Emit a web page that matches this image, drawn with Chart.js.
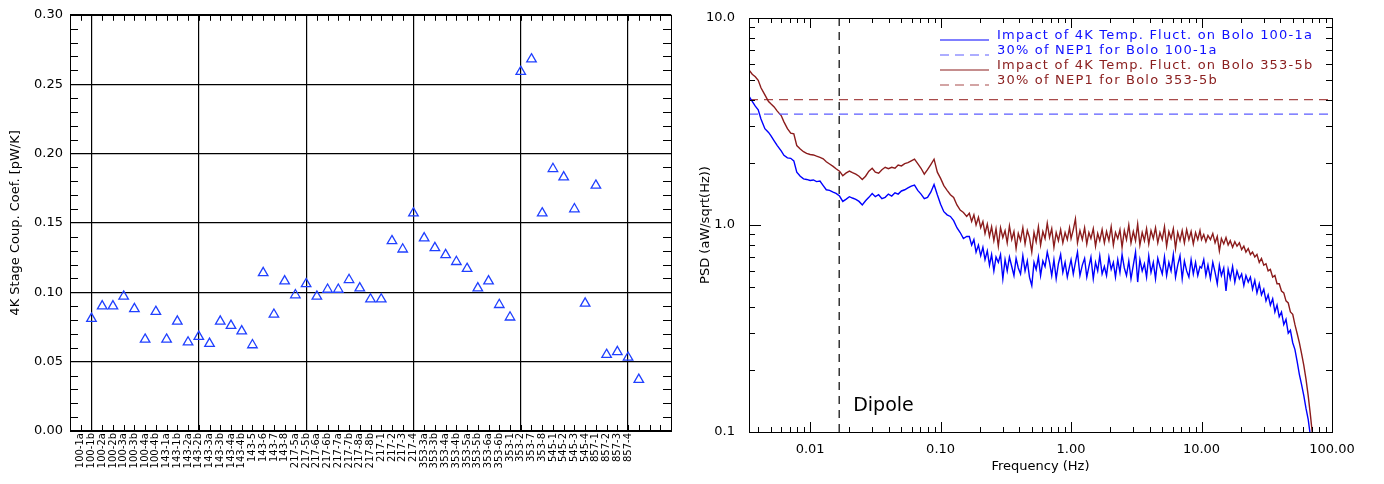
<!DOCTYPE html>
<html>
<head>
<meta charset="utf-8">
<script src="https://cdn.jsdelivr.net/npm/chart.js@4.4.1/dist/chart.umd.min.js"></script>
<style>
  html, body { margin: 0; padding: 0; background: #fff; }
  #wrap { position: relative; width: 1384px; height: 484px; }
  canvas { position: absolute; top: 0; }
  #coupling { left: 0; }
  #psd { left: 690px; }
</style>
</head>
<body>
<div id="wrap">
  <canvas id="coupling" width="690" height="484"></canvas>
  <canvas id="psd" width="694" height="484"></canvas>
</div>
<script>
// ── 4K stage coupling per bolometer + PSD of the 4K temperature impact ──

const boloNames = [
  '100-1a', '100-1b', '100-2a', '100-2b', '100-3a', '100-3b', '100-4a', '100-4b',
  '143-1a', '143-1b', '143-2a', '143-2b', '143-3a', '143-3b', '143-4a', '143-4b',
  '143-5', '143-6', '143-7', '143-8',
  '217-5a', '217-5b', '217-6a', '217-6b', '217-7a', '217-7b', '217-8a', '217-8b',
  '217-1', '217-2', '217-3', '217-4',
  '353-3a', '353-3b', '353-4a', '353-4b', '353-5a', '353-5b', '353-6a', '353-6b',
  '353-1', '353-2', '353-7', '353-8',
  '545-1', '545-2', '545-3', '545-4',
  '857-1', '857-2', '857-3', '857-4'
];

// pW/K, one per bolometer (plotted at index + 1)
const couplingCoef = [
  0.081, 0.090, 0.090, 0.097, 0.088, 0.066, 0.086, 0.066, 0.079, 0.064,
  0.068, 0.063, 0.079, 0.076, 0.072, 0.062, 0.114, 0.084, 0.108, 0.098,
  0.106, 0.097, 0.102, 0.102, 0.109, 0.103, 0.095, 0.095, 0.137, 0.131,
  0.157, 0.139, 0.132, 0.127, 0.122, 0.117, 0.103, 0.108, 0.091, 0.082,
  0.259, 0.268, 0.157, 0.189, 0.183, 0.160, 0.092, 0.177, 0.055, 0.057,
  0.053, 0.037
];

const freqHz = [
  0.0034, 0.0036, 0.0038, 0.0040, 0.0042, 0.0045, 0.0048, 0.0050, 0.0053, 0.0056,
  0.0060, 0.0063, 0.0067, 0.0071, 0.0075, 0.0079, 0.0084, 0.0089, 0.0094, 0.0100,
  0.0106, 0.0112, 0.0119, 0.0126, 0.0133, 0.0141, 0.0150, 0.0158, 0.0168, 0.0178,
  0.0188, 0.0200, 0.0211, 0.0224, 0.0237, 0.0251, 0.0266, 0.0282, 0.0299, 0.0316,
  0.0335, 0.0355, 0.0376, 0.0398, 0.0422, 0.0447, 0.0473, 0.0501, 0.0531, 0.0562,
  0.0596, 0.0631, 0.0668, 0.0708, 0.0750, 0.0794, 0.0841, 0.0891, 0.0944, 0.1000,
  0.1059, 0.1122, 0.1189, 0.1259, 0.1334, 0.1413, 0.1496, 0.1585,
  0.166, 0.173, 0.180, 0.187, 0.195, 0.203, 0.211, 0.219, 0.228, 0.237,
  0.246, 0.256, 0.266, 0.277, 0.288, 0.300, 0.312, 0.324, 0.337, 0.351,
  0.365, 0.379, 0.394, 0.410, 0.427, 0.444, 0.462, 0.480, 0.500, 0.520,
  0.540, 0.562, 0.584, 0.608, 0.632, 0.657, 0.684, 0.711, 0.739, 0.769,
  0.800, 0.832, 0.865, 0.900, 0.936, 0.973,
  1.00, 1.04, 1.08, 1.12, 1.17, 1.22, 1.27, 1.32, 1.37, 1.42,
  1.48, 1.54, 1.60, 1.66, 1.73, 1.80, 1.87, 1.95, 2.03, 2.11,
  2.19, 2.28, 2.37, 2.46, 2.56, 2.66, 2.77, 2.88, 3.00, 3.12,
  3.24, 3.37, 3.51, 3.65, 3.79, 3.94, 4.10, 4.27, 4.44, 4.62,
  4.80, 5.00, 5.20, 5.40, 5.62, 5.84, 6.08, 6.32, 6.57, 6.84,
  7.11, 7.39, 7.69, 8.00, 8.32, 8.65, 9.00, 9.36, 9.73,
  10.0, 10.4, 10.8, 11.2, 11.7, 12.2, 12.7, 13.2, 13.7, 14.2,
  14.8, 15.4, 16.0, 16.6, 17.3, 18.0, 18.7, 19.5, 20.3, 21.1,
  21.9, 22.8, 23.7, 24.6, 25.6, 26.6, 27.7, 28.8, 30.0, 31.2,
  32.4, 33.7, 35.1, 36.5, 37.9, 39.4, 41.0, 42.7, 44.4, 46.2,
  48.0, 50.0, 52.0, 54.0, 56.2, 58.4, 60.8, 63.2, 65.7, 68.4,
  71.1
];

// aW/sqrt(Hz), bolometer 100-1a
const psdBolo100 = [
  4.20, 3.95, 3.75, 3.60, 3.25, 2.92, 2.80, 2.70, 2.55, 2.42,
  2.28, 2.17, 2.11, 2.10, 2.04, 1.80, 1.72, 1.67, 1.66, 1.64,
  1.65, 1.62, 1.63, 1.55, 1.48, 1.47, 1.44, 1.42, 1.38, 1.30,
  1.33, 1.37, 1.35, 1.33, 1.30, 1.25, 1.31, 1.36, 1.42, 1.37,
  1.40, 1.34, 1.36, 1.41, 1.38, 1.43, 1.41, 1.46, 1.48, 1.51,
  1.54, 1.56, 1.47, 1.41, 1.34, 1.36, 1.44, 1.57, 1.40, 1.26,
  1.16, 1.12, 1.10, 1.05, 0.97, 0.92, 0.86, 0.88,
  0.88, 0.80, 0.85, 0.74, 0.80, 0.71, 0.78, 0.68, 0.75, 0.64,
  0.72, 0.60, 0.70, 0.66, 0.72, 0.55, 0.68, 0.60, 0.70, 0.63,
  0.57, 0.69, 0.62, 0.58, 0.71, 0.60, 0.67, 0.56, 0.51, 0.66,
  0.61, 0.70, 0.57, 0.67, 0.63, 0.74, 0.66, 0.57, 0.68, 0.55,
  0.65, 0.72, 0.59, 0.66, 0.56, 0.63,
  0.68, 0.58, 0.66, 0.74, 0.57, 0.64, 0.69, 0.56, 0.63, 0.70,
  0.55, 0.66, 0.60, 0.71, 0.58, 0.63, 0.57, 0.70, 0.61, 0.66,
  0.56, 0.68, 0.59, 0.72, 0.62, 0.57, 0.67, 0.55, 0.64, 0.74,
  0.53, 0.68, 0.60, 0.65, 0.56, 0.71, 0.59, 0.66, 0.55, 0.69,
  0.63, 0.58, 0.70, 0.57, 0.66, 0.60, 0.72, 0.56, 0.64, 0.71,
  0.55, 0.67, 0.60, 0.56, 0.68, 0.58, 0.66, 0.57, 0.63,
  0.62, 0.68, 0.57, 0.64, 0.55, 0.66, 0.59, 0.52, 0.64, 0.57,
  0.62, 0.48, 0.61, 0.55, 0.63, 0.53, 0.60, 0.55, 0.58, 0.51,
  0.57, 0.53, 0.56, 0.49, 0.54, 0.47, 0.52, 0.46, 0.49, 0.43,
  0.46, 0.41, 0.44, 0.38, 0.41, 0.36, 0.38, 0.33, 0.35, 0.30,
  0.31, 0.27, 0.25, 0.22, 0.19, 0.17, 0.15, 0.13, 0.115, 0.095,
  0.08
];

// aW/sqrt(Hz), bolometer 353-5b
const psdBolo353 = [
  5.62, 5.35, 5.20, 5.00, 4.60, 4.25, 3.95, 3.85, 3.72, 3.55,
  3.38, 3.15, 2.92, 2.78, 2.76, 2.42, 2.33, 2.26, 2.22, 2.19,
  2.18, 2.15, 2.12, 2.09, 2.02, 1.97, 1.92, 1.87, 1.82, 1.73,
  1.78, 1.82, 1.79, 1.76, 1.72, 1.66, 1.72, 1.82, 1.88, 1.80,
  1.78, 1.85, 1.90, 1.87, 1.90, 1.88, 1.95, 1.93, 1.98, 2.00,
  2.04, 2.08, 1.98, 1.88, 1.76, 1.85, 1.96, 2.08, 1.80, 1.68,
  1.55, 1.47, 1.40, 1.36, 1.25, 1.18, 1.15, 1.10,
  1.14, 1.04, 1.12, 1.00, 1.09, 0.97, 1.04, 0.91, 1.01, 0.88,
  0.98, 0.84, 0.96, 0.79, 0.97, 0.87, 0.94, 0.82, 0.99, 0.85,
  0.93, 0.77, 0.91, 0.84, 0.97, 0.81, 0.94, 0.87, 0.74, 0.92,
  0.83, 0.98, 0.80, 0.93, 0.86, 1.02, 0.87, 0.96, 0.78, 0.92,
  0.84, 0.95, 0.82, 0.92, 0.85, 0.97,
  0.86, 0.95, 1.07, 0.82, 0.94, 0.85, 0.97, 0.81, 0.92, 0.86,
  0.96, 0.79, 0.91, 0.84, 0.95, 0.82, 0.93, 0.84, 0.98, 0.80,
  0.92, 0.86, 0.95, 0.78, 0.94, 0.85, 1.00, 0.82, 0.93, 0.84,
  1.01, 0.80, 0.92, 0.84, 0.96, 0.81, 0.94, 0.86, 0.97, 0.82,
  0.92, 0.85, 0.98, 0.79, 0.93, 0.86, 0.96, 0.77, 0.92, 0.84,
  0.94, 0.82, 0.95, 0.85, 0.93, 0.81, 0.92, 0.85, 0.94,
  0.85, 0.90, 0.83, 0.89, 0.85, 0.91, 0.82, 0.88, 0.75, 0.86,
  0.81, 0.87, 0.80, 0.84, 0.78, 0.83, 0.79, 0.82, 0.76, 0.79,
  0.74, 0.77, 0.72, 0.74, 0.70, 0.72, 0.66, 0.69, 0.64, 0.65,
  0.60, 0.61, 0.56, 0.57, 0.52, 0.52, 0.48, 0.47, 0.43, 0.42,
  0.38, 0.37, 0.33, 0.30, 0.27, 0.24, 0.21, 0.18, 0.15, 0.12,
  0.095
];

// 30% of NEP1 levels and the dipole frequency (1/60 Hz)
const nepBolo100 = 3.43;
const nepBolo353 = 4.03;
const dipoleHz = 0.0167;
const freqRange = [0.0034, 100];
const psdRange = [0.1, 10];

Chart.defaults.font.family = "'DejaVu Sans', sans-serif";
Chart.defaults.color = '#000';

// ── left panel: frame, minor ticks ──
const couplingAxes = {
  id: 'couplingAxes',
  afterDraw(chart) {
    const { ctx, chartArea: a, scales: { x, y } } = chart;
    ctx.save();
    ctx.strokeStyle = '#000';
    ctx.lineWidth = 1;
    ctx.beginPath();
    for (let v = x.min; v <= x.max; v++) {
      const px = Math.round(x.getPixelForValue(v)) + 0.5;
      ctx.moveTo(px, a.bottom); ctx.lineTo(px, a.bottom - 6);
      ctx.moveTo(px, a.top); ctx.lineTo(px, a.top + 6);
    }
    for (let k = 1; k < 30; k++) {
      if (k % 5 === 0) continue;
      const py = Math.round(y.getPixelForValue(k / 100)) + 0.5;
      ctx.moveTo(a.left, py); ctx.lineTo(a.left + 8, py);
      ctx.moveTo(a.right, py); ctx.lineTo(a.right - 8, py);
    }
    ctx.stroke();
    ctx.strokeRect(Math.round(a.left) + 0.5, Math.round(a.top) + 0.5,
      Math.round(a.right - a.left), Math.round(a.bottom - a.top));
    ctx.restore();
  }
};

new Chart(document.getElementById('coupling'), {
  type: 'scatter',
  data: {
    datasets: [{
      data: couplingCoef.map((v, i) => ({ x: i + 1, y: v })),
      pointStyle: 'triangle',
      pointRadius: 5.5,
      pointHoverRadius: 5.5,
      borderColor: '#2040ff',
      backgroundColor: 'rgba(0,0,0,0)',
      borderWidth: 1.3
    }]
  },
  options: {
    responsive: false, animation: false, devicePixelRatio: 1,
    layout: { padding: { top: 4, right: 19, left: 0, bottom: 0 } },
    plugins: { legend: { display: false }, tooltip: { enabled: false } },
    scales: {
      x: {
        type: 'linear', min: -1, max: 55,
        afterBuildTicks: s => { s.ticks = boloNames.map((_, i) => ({ value: i })); },
        afterFit: s => { s.height = 53; },
        ticks: {
          autoSkip: false, minRotation: 90, maxRotation: 90, padding: 2,
          font: { size: 10 },
          callback: v => boloNames[v] || ''
        },
        grid: {
          drawTicks: false, lineWidth: 1.2,
          color: c => (c.tick && c.tick.value % 10 === 1 ? '#000' : 'rgba(0,0,0,0)')
        },
        border: { display: false }
      },
      y: {
        min: 0, max: 0.30,
        afterFit: s => { s.width = 70; },
        ticks: { stepSize: 0.05, padding: 7, font: { size: 13 }, callback: v => v.toFixed(2) },
        grid: { drawTicks: false, color: '#000', lineWidth: 1.2 },
        border: { display: false },
        title: {
          display: true, text: '4K Stage Coup. Coef. [pW/K]',
          font: { size: 13 }, padding: { top: 8, bottom: 0 }
        }
      }
    }
  },
  plugins: [couplingAxes]
});

// ── right panel: log frame ticks, inside legend, dipole tag ──
const psdAxes = {
  id: 'psdAxes',
  afterDraw(chart) {
    const { ctx, chartArea: a, scales: { x, y } } = chart;
    ctx.save();
    ctx.strokeStyle = '#000';
    ctx.lineWidth = 1;
    ctx.beginPath();
    for (let e = -3; e <= 1; e++) {
      for (let m = 1; m <= 9; m++) {
        const v = m * Math.pow(10, e);
        if (v < x.min || v > x.max) continue;
        const px = Math.round(x.getPixelForValue(v)) + 0.5;
        const len = m === 1 ? 10 : 5;
        ctx.moveTo(px, a.bottom); ctx.lineTo(px, a.bottom - len);
        ctx.moveTo(px, a.top); ctx.lineTo(px, a.top + len);
      }
    }
    for (let e = -1; e <= 1; e++) {
      for (let m = 1; m <= 9; m++) {
        const v = m * Math.pow(10, e);
        if (v < y.min || v > y.max) continue;
        const py = Math.round(y.getPixelForValue(v)) + 0.5;
        const len = m === 1 ? 12 : 6;
        ctx.moveTo(a.left, py); ctx.lineTo(a.left + len, py);
        ctx.moveTo(a.right, py); ctx.lineTo(a.right - len, py);
      }
    }
    ctx.stroke();
    ctx.strokeRect(Math.round(a.left) + 0.5, Math.round(a.top) + 0.5,
      Math.round(a.right - a.left), Math.round(a.bottom - a.top));

    // dipole tag beside the dashed marker
    ctx.font = "19px 'DejaVu Sans'";
    ctx.fillStyle = '#000';
    ctx.textBaseline = 'middle';
    ctx.fillText('Dipole', x.getPixelForValue(dipoleHz) + 14, y.getPixelForValue(0.133));

    // legend block, top right inside the plot
    const rows = chart.data.datasets.filter(d => d.legendColor);
    ctx.font = "13px 'DejaVu Sans'";
    if ('letterSpacing' in ctx) ctx.letterSpacing = '1.2px';
    rows.forEach((d, i) => {
      const ty = a.top + 17.5 + i * 15;
      ctx.strokeStyle = d.borderColor;
      ctx.lineWidth = 1.2;
      ctx.setLineDash(d.borderDash || []);
      ctx.beginPath();
      ctx.moveTo(a.left + 191, ty + 4.5);
      ctx.lineTo(a.left + 240, ty + 4.5);
      ctx.stroke();
      ctx.fillStyle = d.legendColor;
      ctx.fillText(d.label, a.left + 248, ty);
    });
    ctx.restore();
  }
};

const psdDecadeLabel = (v, digits) => {
  const e = Math.log10(v);
  return Math.abs(e - Math.round(e)) < 1e-6 ? v.toFixed(digits(Math.round(e))) : '';
};

const flatLevel = level => freqRange.map(f => ({ x: f, y: level }));

new Chart(document.getElementById('psd'), {
  type: 'scatter',
  data: {
    datasets: [
      {
        label: 'Impact of 4K Temp. Fluct. on Bolo 100-1a',
        data: freqHz.map((f, i) => ({ x: f, y: psdBolo100[i] })),
        showLine: true, pointRadius: 0, borderColor: '#0000ff', borderWidth: 1.4,
        legendColor: '#1010ff'
      },
      {
        label: '30% of NEP1 for Bolo 100-1a',
        data: flatLevel(nepBolo100),
        showLine: true, pointRadius: 0, borderColor: '#5c5cff', borderWidth: 1.3,
        borderDash: [9, 6], legendColor: '#1010ff'
      },
      {
        label: 'Impact of 4K Temp. Fluct. on Bolo 353-5b',
        data: freqHz.map((f, i) => ({ x: f, y: psdBolo353[i] })),
        showLine: true, pointRadius: 0, borderColor: '#8b1c1c', borderWidth: 1.4,
        legendColor: '#8b2020'
      },
      {
        label: '30% of NEP1 for Bolo 353-5b',
        data: flatLevel(nepBolo353),
        showLine: true, pointRadius: 0, borderColor: '#a84a4a', borderWidth: 1.3,
        borderDash: [9, 6], legendColor: '#8b2020'
      },
      {
        label: 'Dipole',
        data: psdRange.map(p => ({ x: dipoleHz, y: p })),
        showLine: true, pointRadius: 0, borderColor: '#000', borderWidth: 1.2,
        borderDash: [8, 6]
      }
    ]
  },
  options: {
    responsive: false, animation: false, devicePixelRatio: 1,
    layout: { padding: { top: 18, right: 52, left: 0, bottom: 0 } },
    plugins: { legend: { display: false }, tooltip: { enabled: false } },
    scales: {
      x: {
        type: 'logarithmic', min: freqRange[0], max: freqRange[1],
        afterFit: s => { s.height = 52; },
        ticks: {
          autoSkip: false, maxRotation: 0, padding: 2, font: { size: 13 },
          callback: v => psdDecadeLabel(v, e => Math.max(2, -e))
        },
        grid: { display: false },
        border: { display: false },
        title: {
          display: true, text: 'Frequency (Hz)', font: { size: 13 },
          padding: { top: 0, bottom: 10 }
        }
      },
      y: {
        type: 'logarithmic', min: psdRange[0], max: psdRange[1],
        afterFit: s => { s.width = 59; },
        ticks: {
          autoSkip: false, padding: 6, font: { size: 13 },
          callback: v => psdDecadeLabel(v, () => 1)
        },
        grid: { display: false },
        border: { display: false },
        title: {
          display: true, text: 'PSD (aW/sqrt(Hz))', font: { size: 13 },
          padding: { top: 8, bottom: 0 }
        }
      }
    }
  },
  plugins: [psdAxes]
});
</script>
</body>
</html>
